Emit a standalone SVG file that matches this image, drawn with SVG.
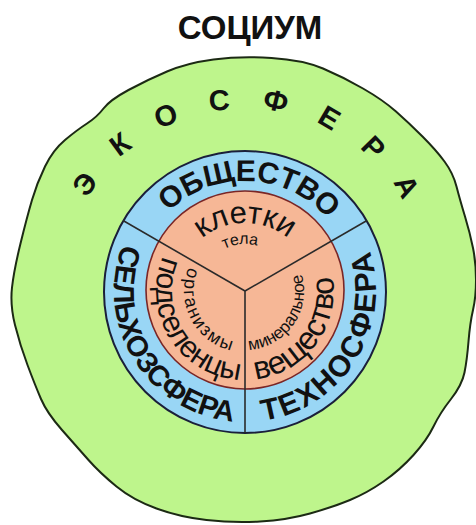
<svg xmlns="http://www.w3.org/2000/svg" width="476" height="525" viewBox="0 0 476 525">
<defs>
<style>
.ring{font-family:"Liberation Sans",Arial,sans-serif;font-weight:bold;fill:#111}
.core{font-family:"Liberation Sans",Arial,sans-serif;fill:#111}
.div{stroke:#2a2a2a;stroke-width:1.6;fill:none}
</style>
<path id="p-eko" d="M 63 291 A 182 182 0 0 1 427 291"/>
<path id="p-obsh" d="M 135.1 286.2 A 110 110 0 0 1 354.9 295.8"/>
<path id="p-selkh" d="M 122.7 244.1 A 131 131 0 0 0 310.5 404.4"/>
<path id="p-tekh" d="M 263.2 420.7 A 131 131 0 0 0 310.5 177.6"/>
<path id="p-klet" d="M 177 291 A 68 68 0 0 1 313 291"/>
<path id="p-tela" d="M 198 291 A 47 47 0 0 1 292 291"/>
<path id="p-podsel" d="M 163.1 256.2 A 89 89 0 0 0 289.5 368.1"/>
<path id="p-organ" d="M 188.8 267.2 A 61 61 0 0 0 275.5 343.8"/>
<path id="p-veshch" d="M 255.8 379.3 A 89 89 0 0 0 275.4 207.4"/>
<path id="p-miner" d="M 249.1 349.9 A 59 59 0 0 0 265.2 235.6"/>
</defs>
<rect width="476" height="525" fill="#ffffff"/>
<g id="title">
<text x="250" y="39" text-anchor="middle" style="font-family:'Liberation Sans',Arial,sans-serif;font-weight:bold;font-size:33px;fill:#111">СОЦИУМ</text>
</g>
<g id="ecosphere">
<path d="M 213.5 59.5 Q 240 56 271.5 58 Q 303 60 323 68.5 Q 343 77 363 88.5 Q 383 100 396 111.5 Q 409 123 422.5 136.5 Q 436 150 444.5 161.5 Q 453 173 456.5 186.5 Q 460 200 465 216.5 Q 470 233 473 248 Q 476 263 476 280 Q 476 297 473 310 Q 470 323 468.5 341.5 Q 467 360 464.5 372.5 Q 462 385 451 399 Q 440 413 433.5 426.5 Q 427 440 413.5 455 Q 400 470 383.5 481.5 Q 367 493 350 500 Q 333 507 310 513.5 Q 287 520 260 521.5 Q 233 523 206.5 520 Q 180 517 156.5 508.5 Q 133 500 116.5 486.5 Q 100 473 88.5 460 Q 77 447 62 430 Q 47 413 41 399 Q 35 385 27.5 365 Q 20 345 15 325 Q 10 305 12 287.5 Q 14 270 20.5 243.5 Q 27 217 32 200 Q 37 183 45 166.5 Q 53 150 65 140 Q 77 130 87 123.5 Q 97 117 103.5 108.5 Q 110 100 128.5 90 Q 147 80 167 71.5 Q 187 63 213.5 59.5 Z" fill="#bef58c" stroke="#1c2a14" stroke-width="2"/>
<text class="ring" style="font-size:29px;letter-spacing:31px"><textPath href="#p-eko" startOffset="302" text-anchor="middle">ЭКОСФЕРА</textPath></text>
</g>
<g id="society">
<circle cx="245" cy="292" r="141" fill="#99d6f5" stroke="#1a1f3a" stroke-width="2"/>
<text class="ring" style="font-size:30px"><textPath href="#p-obsh" startOffset="50%" text-anchor="middle">ОБЩЕСТВО</textPath></text>
<text class="ring" style="font-size:29px"><textPath href="#p-selkh">СЕЛЬХОЗСФЕРА</textPath></text>
<text class="ring" style="font-size:30px;letter-spacing:2px"><textPath href="#p-tekh">ТЕХНОСФЕРА</textPath></text>
</g>
<g id="body">
<circle cx="245" cy="290" r="99" fill="#f6b796" stroke="#7a2626" stroke-width="1.6"/>
<text class="core" style="font-size:31px"><textPath href="#p-klet" startOffset="50%" text-anchor="middle">клетки</textPath></text>
<text class="core" style="font-size:16px"><textPath href="#p-tela" startOffset="47%" text-anchor="middle">тела</textPath></text>
<text class="core" style="font-size:30px"><textPath href="#p-podsel">подселенцы</textPath></text>
<text class="core" style="font-size:18px;letter-spacing:2px"><textPath href="#p-organ">организмы</textPath></text>
<text class="core" style="font-size:32px"><textPath href="#p-veshch">вещество</textPath></text>
<text class="core" style="font-size:17px"><textPath href="#p-miner">минеральное</textPath></text>
</g>
<g id="connectors">
<line class="div" x1="245" y1="291" x2="123" y2="220.5"/>
<line class="div" x1="245" y1="291" x2="367" y2="220.5"/>
<line class="div" x1="245" y1="291" x2="245" y2="433"/>
</g>
</svg>
